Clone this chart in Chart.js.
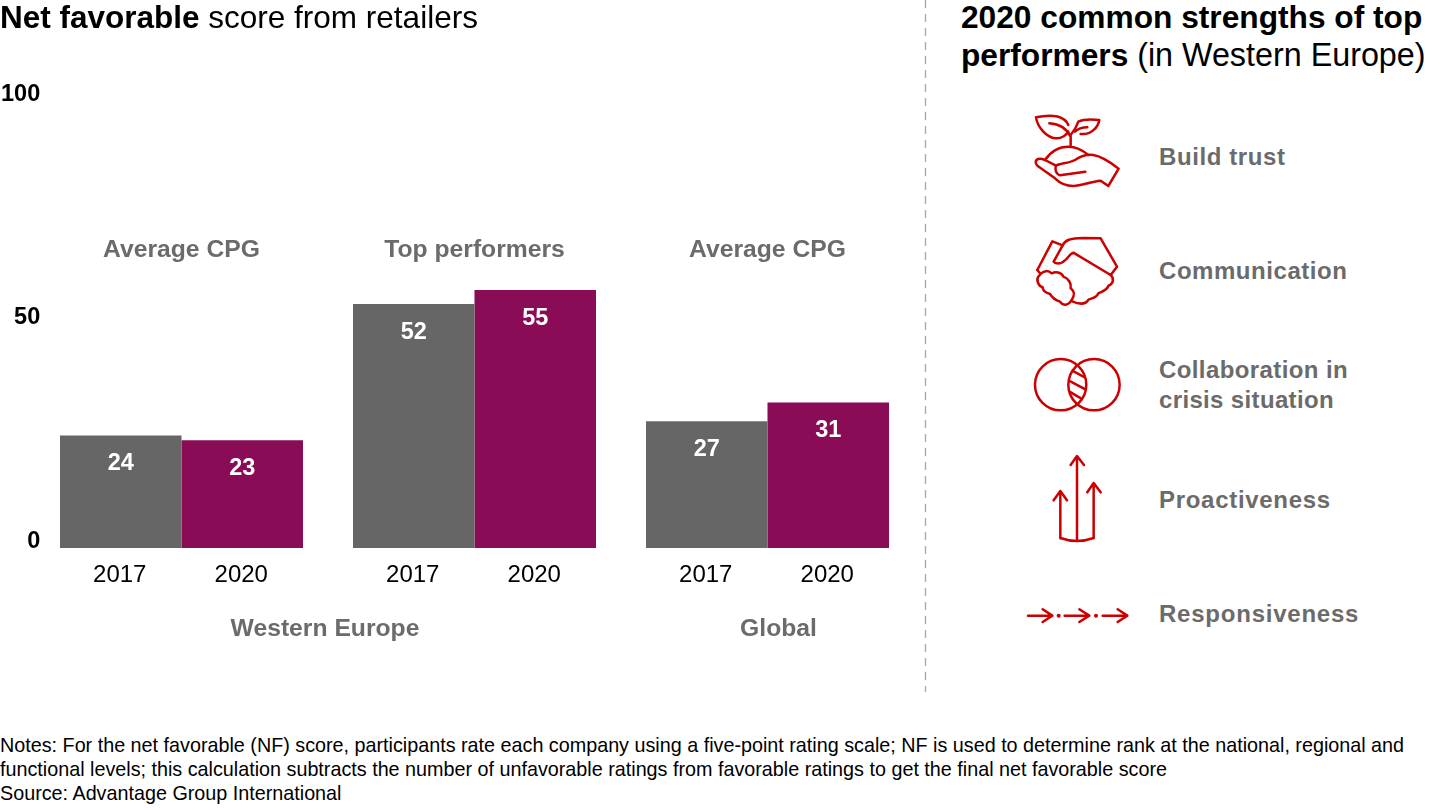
<!DOCTYPE html>
<html>
<head>
<meta charset="utf-8">
<script src="https://cdn.jsdelivr.net/npm/chart.js@4"></script>
<style>
    html, body { margin: 0; padding: 0; background: #fff; }
    body { width: 1440px; height: 810px; position: relative; overflow: hidden; font-family: "Liberation Sans", Arial, sans-serif; }
    #chartWrap { position: absolute; left: 0; top: 0; width: 925px; height: 690px; }
    .txt { position: absolute; white-space: nowrap; }
    .head { font-size: 31.5px; line-height: 36px; color: #000; }
    .lbl { left: 1159px; font-size: 24px; line-height: 30px; font-weight: bold; color: #6b6b6b; letter-spacing: 0.7px; }
    .notes { left: 0; top: 733px; font-size: 19.75px; line-height: 24px; color: #000; }
    #icons { position: absolute; left: 0; top: 0; }
    #icons path, #icons circle, #icons line { fill: none; stroke: #cc0000; stroke-width: 7.5; stroke-linecap: round; stroke-linejoin: round; }
    #icons .dot { fill: #cc0000; stroke: none; }
</style>
</head>
<body>
<div id="chartWrap"><canvas id="scoreChart" width="925" height="690"></canvas></div>

<div class="txt head" style="left:0;top:-1px"><b>Net favorable</b> score from retailers</div>
<div class="txt head" style="left:961px;top:-1px;font-size:31.7px"><b>2020 common strengths of top</b></div>
<div class="txt head" style="left:961px;top:37px;font-size:31.7px"><b>performers</b> <span style="font-size:32.3px">(in Western Europe)</span></div>

<div class="txt lbl" style="top:142px;letter-spacing:.6px">Build trust</div>
<div class="txt lbl" style="top:256px;letter-spacing:.55px">Communication</div>
<div class="txt lbl" style="top:355px;letter-spacing:.4px">Collaboration in</div>
<div class="txt lbl" style="top:385px;letter-spacing:.35px">crisis situation</div>
<div class="txt lbl" style="top:485px">Proactiveness</div>
<div class="txt lbl" style="top:599px;letter-spacing:.77px">Responsiveness</div>

<div class="txt notes">Notes: For the net favorable (NF) score, participants rate each company using a five-point rating scale; NF is used to determine rank at the national, regional and<br>functional levels; this calculation subtracts the number of unfavorable ratings from favorable ratings to get the final net favorable score<br>Source: Advantage Group International</div>

<svg id="icons" width="1440" height="810">
    <line x1="925.5" y1="0" x2="925.5" y2="692" style="stroke:#a6a6a6;stroke-width:1.3;stroke-dasharray:8 6;stroke-linecap:butt"></line>
    <defs>
        <clipPath id="lens"><path d="M202 75.4A77 77 0 0 1 202 192.6A77 77 0 0 1 202 75.4"></path></clipPath>
    </defs>
    <g transform="translate(1010 100) scale(.3333)">
        <!-- plant in hand -->
        <path d="M175 75C165 50 130 40 78 52C82 80 110 115 140 115C155 115 170 105 175 95"></path>
        <path d="M118 70C145 72 170 85 182 110V138"></path>
        <path d="M182 105C195 90 200 80 205 65C225 55 250 58 268 60C265 80 245 105 212 102"></path>
        <path d="M195 95C205 85 215 82 232 82"></path>
        <path d="M105 180C125 150 150 140 175 140C200 140 220 152 235 165"></path>
        <path d="M105 180L138 197C150 190 175 190 195 180C210 170 225 162 250 165C280 170 305 190 326 206L295 258L272 242C240 245 215 258 190 258C165 258 150 250 135 235L82 197C75 190 75 180 85 177C95 175 100 178 105 180"></path>
        <path d="M138 197C135 205 135 220 150 226L226 215"></path>
        <!-- handshake -->
        <path d="M82 510L127 424L158 436"></path>
        <path d="M158 436C165 420 180 415 220 414L272 415L321 500L302 525L190 458C180 460 175 475 160 485C150 492 135 492 131 485L158 436"></path>
        <path d="M302 525C312 535 312 550 295 558C290 572 275 575 265 580C260 595 240 595 235 600C225 615 205 612 187 604"></path>
        <path d="M82 510L92 522C100 512 115 510 125 520C135 515 155 515 160 530C175 535 185 550 182 565C195 575 195 585 185 600C175 618 160 618 150 605C135 600 125 590 120 582C105 578 98 570 98 562C85 558 78 540 85 530L92 522"></path>
    </g>
    <g transform="translate(1010 340) scale(.3333)">
        <!-- overlapping circles -->
        <circle cx="152" cy="134" r="77"></circle>
        <circle cx="252" cy="134" r="77"></circle>
        <g clip-path="url(#lens)">
            <path d="M180 88L235 118M170 118L235 153M170 150L230 185M175 178L215 200"></path>
        </g>
        <!-- three arrows -->
        <path d="M201 602V350M182 375L201 348L222 375"></path>
        <path d="M151 594V455M131 481L151 453L171 481"></path>
        <path d="M251 594V430M232 457L251 429L272 457"></path>
        <path d="M151 594Q201 612 251 594"></path>
        <!-- dotted arrows -->
        <path d="M54 827H127M98 808L127 827L98 846"></path>
        <circle class="dot" cx="146" cy="827" r="6"></circle>
        <path d="M164 827H238M208 808L238 827L208 846"></path>
        <circle class="dot" cx="258" cy="827" r="6"></circle>
        <path d="M278 827H352M323 808L352 827L323 846"></path>
    </g>
</svg>

<script>
    const groups = ['Average CPG', 'Top performers', 'Average CPG'];
    const years = ['2017', '2020'];
    const values2017 = [24, 52, 27];
    const values2020 = [23, 55, 31];
    const yTicks = [0, 50, 100];
    const regions = [
        { name: 'Western Europe', from: 0, to: 1, shift: -3 },
        { name: 'Global', from: 2, to: 2, shift: 11 }
    ];

    const FONT = '"Liberation Sans", Arial, sans-serif';
    const GRAY = '#666666';
    const PURPLE = '#8a0b56';

    // Labels Chart.js has no option for: values inside bars, years under them, group and region names
    const barLabels = {
        id: 'barLabels',
        afterDatasetsDraw(chart) {
            const ctx = chart.ctx;
            const base = chart.scales.y.getPixelForValue(0);
            ctx.save();
            ctx.textAlign = 'center';
            ctx.textBaseline = 'middle';

            chart.data.datasets.forEach((ds, i) => {
                chart.getDatasetMeta(i).data.forEach((bar, j) => {
                    ctx.font = 'bold 23.5px ' + FONT;
                    ctx.fillStyle = '#fff';
                    ctx.fillText(ds.data[j], bar.x, bar.y + 28);
                    ctx.font = '24px ' + FONT;
                    ctx.fillStyle = '#000';
                    ctx.fillText(years[i], bar.x - 1, base + 27);
                });
            });

            ctx.font = 'bold 24.7px ' + FONT;
            ctx.fillStyle = '#6b6b6b';
            groups.forEach((name, j) => {
                ctx.fillText(name, chart.scales.x.getPixelForValue(j), 250);
            });
            regions.forEach((r) => {
                const mid = (chart.scales.x.getPixelForValue(r.from) + chart.scales.x.getPixelForValue(r.to)) / 2;
                ctx.fillText(r.name, mid + r.shift, 629);
            });
            ctx.restore();
        }
    };

    new Chart(document.getElementById('scoreChart'), {
        type: 'bar',
        data: {
            labels: groups,
            datasets: [
                { label: years[0], data: values2017, backgroundColor: GRAY },
                { label: years[1], data: values2020, backgroundColor: PURPLE }
            ]
        },
        options: {
            responsive: false,
            animation: false,
            events: [],
            categoryPercentage: 243 / 293,
            barPercentage: 1,
            layout: { padding: { top: 79, right: 11, bottom: 142, left: 0 } },
            plugins: { legend: { display: false }, tooltip: { enabled: false } },
            scales: {
                x: { display: false, offset: true },
                y: { display: false, min: 0, max: 100 },
                // tick labels sit on their own tighter scale in the reference, not on the bar scale
                yTicks: {
                    position: 'left',
                    min: -1.5,
                    max: 103.4,
                    afterBuildTicks: (axis) => { axis.ticks = yTicks.map((v) => ({ value: v })); },
                    afterFit: (axis) => { axis.width = 35; },
                    grid: { display: false, drawTicks: false },
                    border: { display: false },
                    ticks: {
                        mirror: true,        // mirrored labels are not clipped to the narrow axis box
                        crossAlign: 'far',
                        padding: -34,
                        color: '#000',
                        font: { family: FONT, size: 23.5, weight: 'bold' }
                    }
                }
            }
        },
        plugins: [barLabels]
    });
</script>
</body>
</html>
